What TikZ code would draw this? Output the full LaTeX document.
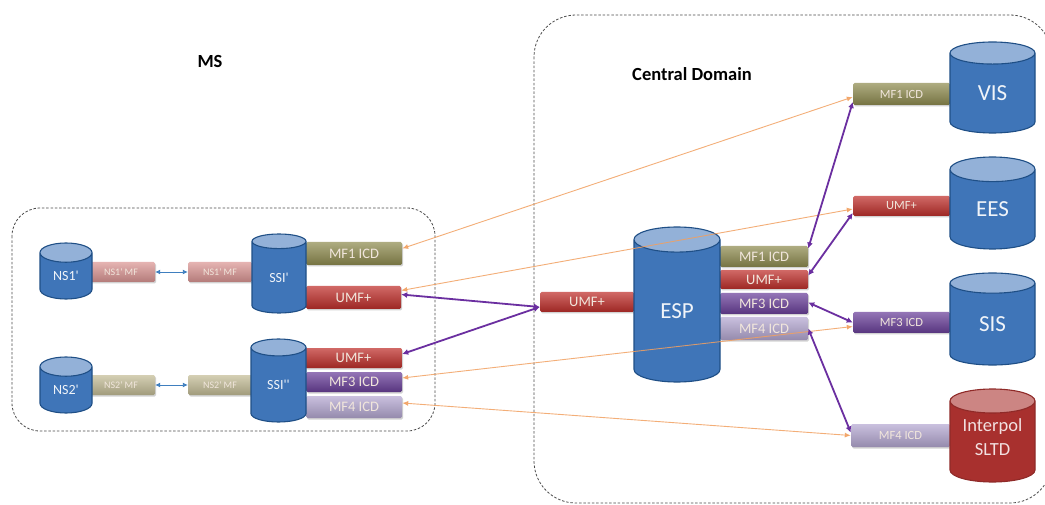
\documentclass[tikz,border=0pt]{standalone}
\usepackage{fontspec}
\setmainfont{Carlito}[Ligatures=TeXOff]
\usetikzlibrary{shapes.geometric,arrows.meta,shadows}
\definecolor{cylbody}{HTML}{3F75B8}
\definecolor{cyltop}{HTML}{93B1D8}
\definecolor{cylline}{HTML}{1F4F86}
\definecolor{redbody}{HTML}{A8302E}
\definecolor{redtop}{HTML}{CC8583}
\definecolor{redline}{HTML}{8F2A28}
\definecolor{olive}{HTML}{8F8C50}
\definecolor{crim}{HTML}{BF2F2B}
\definecolor{purp}{HTML}{6A409A}
\definecolor{lilac}{HTML}{B5A8D2}
\definecolor{pinkbar}{HTML}{DB9694}
\definecolor{khaki}{HTML}{C4BD97}
\definecolor{arrowpurple}{HTML}{6B2FA0}
\definecolor{arroworange}{HTML}{F2A060}
\definecolor{arrowblue}{HTML}{3F7FBF}
\definecolor{barlabel}{HTML}{F1E6DC}
\tikzset{
  x=1pt,y=-1pt,
  dbnode/.style={shape=cylinder,shape border rotate=90,aspect=0.75,draw=cylline,line width=1.1pt,
    anchor=shape center,
    cylinder uses custom fill,cylinder body fill=cylbody,cylinder end fill=cyltop,
    text=white!92!cylbody,inner sep=0pt,align=center},
  reddb/.style={dbnode,draw=redline,cylinder body fill=redbody,cylinder end fill=redtop,text=white!85!redbody},
  barnode/.style={rectangle,rounded corners=1.5pt,top color=#1!72!white,middle color=#1,bottom color=#1!82!black,
    draw=none,inner sep=0pt,text=barlabel,
    drop shadow={shadow xshift=1pt,shadow yshift=-1.5pt,fill=black!50,opacity=.35}},
  lab/.style={font=\fontsize{14.5}{16}\selectfont},
  smalllab/.style={font=\fontsize{10}{12}\selectfont},
  sidelab/.style={font=\fontsize{12.5}{14}\selectfont},
  dbsmall/.style={font=\fontsize{14}{16}\selectfont},
  dbbig/.style={font=\fontsize{23}{26}\selectfont},
  headline/.style={font=\fontsize{18.5}{20}\selectfont\bfseries,text=black},
  domainbox/.style={draw=black!70,line width=.8pt,dash pattern=on 2.5pt off 1.8pt},
  orangelink/.style={draw=arroworange,line width=.9pt,{Latex[length=6pt,width=5pt]}-{Latex[length=6pt,width=5pt]}},
  purplelink/.style={draw=arrowpurple,line width=1.8pt,{Latex[length=6pt,width=6pt]}-{Latex[length=6pt,width=6pt]}},
  bluelink/.style={draw=arrowblue,line width=.9pt,{Latex[length=5pt,width=5pt]}-{Latex[length=5pt,width=5pt]}},
}
\begin{document}
\begin{tikzpicture}
\useasboundingbox (0,0) rectangle (1045,505);
\fill[white] (0,0) rectangle (1045,505);
\begin{scope}
  \clip (0,0) rectangle (1045,505);
  \draw[domainbox,rounded corners=28pt] (12,208) rectangle (435,431);
  \draw[domainbox,rounded corners=42pt] (534,15) rectangle (1052,503);
\end{scope}
\node[headline] (ms) at (210,62) {MS};
\node[headline] (cd) at (692,74) {Central Domain};

% interface bars (behind the cylinders)
\node[barnode=pinkbar,minimum width=68pt,minimum height=20pt,smalllab] (ns1a) at (121,272) {NS1' MF};
\node[barnode=pinkbar,minimum width=64pt,minimum height=20pt,smalllab] (ns1b) at (220,272) {NS1' MF};
\node[barnode=khaki,minimum width=68pt,minimum height=20pt,smalllab] (ns2a) at (121,385) {NS2' MF};
\node[barnode=khaki,minimum width=64pt,minimum height=20pt,smalllab] (ns2b) at (220,385) {NS2' MF};
\node[barnode=olive,minimum width=96pt,minimum height=23pt,lab] (mf1l) at (354,253.5) {MF1 ICD};
\node[barnode=crim,minimum width=95pt,minimum height=23pt,lab] (umfl) at (353.5,297.5) {UMF+};
\node[barnode=crim,minimum width=97pt,minimum height=20pt,lab] (umfm) at (353.5,358) {UMF+};
\node[barnode=purp,minimum width=96pt,minimum height=20pt,lab] (mf3l) at (354,382) {MF3 ICD};
\node[barnode=lilac,minimum width=96pt,minimum height=22pt,lab] (mf4l) at (354,407) {MF4 ICD};
\node[barnode=crim,minimum width=94pt,minimum height=20pt,lab] (umfc) at (587,302) {UMF+};
\node[barnode=olive,minimum width=88pt,minimum height=21pt,lab] (mf1e) at (764,256.5) {MF1 ICD};
\node[barnode=crim,minimum width=88pt,minimum height=19pt,lab] (umfe) at (764,279.5) {UMF+};
\node[barnode=purp,minimum width=88pt,minimum height=21pt,lab] (mf3e) at (764,303.5) {MF3 ICD};
\node[barnode=lilac,minimum width=88pt,minimum height=23pt,lab] (mf4e) at (764,328.5) {MF4 ICD};
\node[barnode=olive,minimum width=97pt,minimum height=22pt,sidelab] (mf1r) at (901.5,94) {MF1 ICD};
\node[barnode=crim,minimum width=97pt,minimum height=20pt,sidelab] (umfr) at (901.5,206) {UMF+};
\node[barnode=purp,minimum width=97pt,minimum height=21pt,sidelab] (mf3r) at (901.5,322.5) {MF3 ICD};
\node[barnode=lilac,minimum width=99pt,minimum height=23pt,sidelab] (mf4r) at (900.5,435.5) {MF4 ICD};

% cylinders
\node[dbnode,minimum width=52pt,minimum height=56pt,dbsmall] (ns1) at (66,271) {NS1'};
\node[dbnode,minimum width=52pt,minimum height=56pt,dbsmall] (ns2) at (66,385) {NS2'};
\node[dbnode,minimum width=54pt,minimum height=79pt,dbsmall] (ssia) at (279,273.5) {SSI'};
\node[dbnode,minimum width=55pt,minimum height=83pt,dbsmall] (ssib) at (278.5,380.5) {SSI''};
\node[dbnode,minimum width=86pt,minimum height=155pt,dbbig] (esp) at (677,304.5) {ESP};
\node[dbnode,minimum width=85pt,minimum height=91pt,dbbig] (vis) at (992.5,87.5) {VIS};
\node[dbnode,minimum width=85pt,minimum height=92pt,dbbig] (ees) at (992.5,203) {EES};
\node[dbnode,minimum width=85pt,minimum height=92pt,dbbig] (sis) at (992.5,319) {SIS};
\node[reddb,minimum width=85pt,minimum height=93pt,font=\fontsize{18.5}{24}\selectfont] (sltd) at (992.5,435.5) {\makebox[32pt]{\raisebox{1pt}[8pt][3pt]{\begin{tabular}{@{}c@{}}Interpol\\SLTD\end{tabular}}}};

% connectors
\draw[orangelink,opacity=.85] ([yshift=5pt]mf1l.east) -- ([yshift=-3pt]mf1r.west);
\draw[orangelink,opacity=.85] ([yshift=7pt]umfl.east) -- ([yshift=-3pt]umfr.west);
\draw[orangelink,opacity=.85] ([yshift=4pt]mf3l.east) -- ([yshift=-4pt]mf3r.west);
\draw[orangelink,opacity=.85] ([yshift=4pt]mf4l.east) -- (mf4r.west);
\draw[purplelink] ([yshift=3pt]umfl.east) -- ([yshift=-5pt]umfc.west);
\draw[purplelink] ([yshift=4pt]umfm.east) -- ([yshift=-5pt]umfc.west);
\draw[purplelink] ([yshift=8pt]mf1e.east) -- ([yshift=-8pt]mf1r.west);
\draw[purplelink] ([yshift=4pt]umfe.east) -- ([yshift=-7pt]umfr.west);
\draw[purplelink] ([yshift=1pt]mf3e.east) -- (mf3r.west);
\draw[purplelink] (mf4e.east) -- ([yshift=3pt]mf4r.west);
\draw[bluelink] (ns1a.east) -- (ns1b.west);
\draw[bluelink] (ns2a.east) -- (ns2b.west);
\end{tikzpicture}
\end{document}
